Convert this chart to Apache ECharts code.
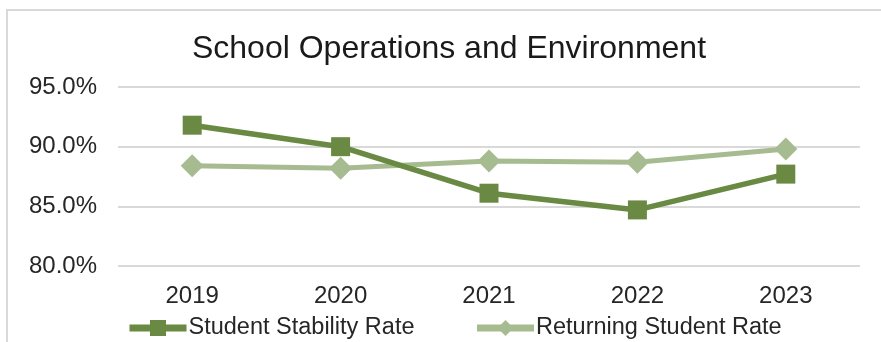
<!DOCTYPE html>
<html>
<head>
<meta charset="utf-8">
<script src="https://cdn.jsdelivr.net/npm/echarts@6/dist/echarts.min.js"></script>
<style>
  html, body { margin: 0; padding: 0; background: #ffffff; }
  #chart { width: 881px; height: 342px; }
</style>
</head>
<body>
<div id="chart"></div>
<script>
// School years on the category axis
const years = ['2019', '2020', '2021', '2022', '2023'];
// Rates in percent
const stabilityRate = [91.8, 90.0, 86.1, 84.7, 87.7];
const returningRate = [88.4, 88.2, 88.8, 88.7, 89.8];
// Value axis range and step
const yMin = 80;
const yMax = 95;
const yStep = 5;

const darkGreen = '#6A8A44';
const lightGreen = '#A7BB90';
const FONT = '"Liberation Sans", Arial, sans-serif';

const chart = echarts.init(document.getElementById('chart'), null, { renderer: 'canvas' });

chart.setOption({
  animation: false,
  backgroundColor: '#ffffff',
  textStyle: { fontFamily: FONT },
  graphic: [{
    type: 'rect',
    shape: { x: 7, y: 10, width: 900, height: 360 },
    style: { fill: 'none', stroke: '#d9d9d9', lineWidth: 2 },
    silent: true,
    z: -10
  }],
  title: {
    text: 'School Operations and Environment',
    left: 449,
    top: 33,
    padding: 0,
    textAlign: 'center',
    textStyle: { fontFamily: FONT, fontSize: 32, fontWeight: 'normal', color: '#1a1a1a' }
  },
  grid: { left: 118, right: 21, top: 87, bottom: 76, containLabel: false },
  legend: {
    left: 126,
    top: 316,
    padding: 0,
    itemWidth: 57,
    itemHeight: 20,
    itemGap: 59,
    lineStyle: { width: 7 },
    textStyle: { fontFamily: FONT, fontSize: 23.5, color: '#262626', padding: [0, 0, 0, -3] },
    data: ['Student Stability Rate', 'Returning Student Rate']
  },
  xAxis: {
    type: 'category',
    data: years,
    boundaryGap: true,
    axisLine: { show: false },
    axisTick: { show: false },
    axisLabel: { margin: 18, fontSize: 24, color: '#262626', fontFamily: FONT }
  },
  yAxis: {
    type: 'value',
    min: yMin,
    max: yMax,
    interval: yStep,
    axisLine: { show: false },
    axisTick: { show: false },
    axisLabel: {
      margin: 21,
      fontSize: 24,
      color: '#262626',
      fontFamily: FONT,
      formatter: v => v.toFixed(1) + '%'
    },
    splitLine: { lineStyle: { color: '#d9d9d9', width: 2 } }
  },
  series: [
    {
      name: 'Student Stability Rate',
      type: 'line',
      data: stabilityRate,
      symbol: 'rect',
      symbolSize: 19,
      color: darkGreen,
      lineStyle: { color: darkGreen, width: 5.5 },
      itemStyle: { color: darkGreen },
      z: 3
    },
    {
      name: 'Returning Student Rate',
      type: 'line',
      data: returningRate,
      symbol: 'diamond',
      symbolSize: 23,
      color: lightGreen,
      lineStyle: { color: lightGreen, width: 5 },
      itemStyle: { color: lightGreen },
      z: 2
    }
  ]
});
</script>
</body>
</html>
